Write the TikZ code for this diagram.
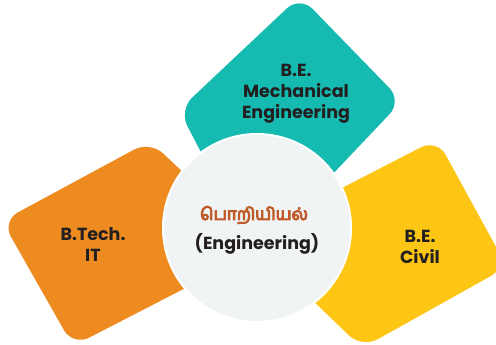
\documentclass[tikz,border=0pt]{standalone}
\usepackage{fontspec}
\setmainfont{Poppins}
\newfontfamily\tamilfont[Script=Tamil]{Hind Madurai}
\definecolor{tealc}{RGB}{21,186,176}
\definecolor{orangec}{RGB}{238,139,32}
\definecolor{yellowc}{RGB}{254,198,20}
\definecolor{hubfill}{RGB}{241,244,245}
\definecolor{darktext}{RGB}{35,31,32}
\definecolor{tamilc}{RGB}{192,90,40}
\newcommand{\heavytext}[1]{\special{pdf:literal direct 2 Tr 1 w}#1\special{pdf:literal direct 0 Tr}}
\tikzset{
  petal/.style={rounded corners=18pt},
  label text/.style={align=center, text=darktext, inner sep=0pt,
    font=\bfseries\fontsize{17.5}{21}\selectfont},
}
\begin{document}
\begin{tikzpicture}[x=1pt,y=-1pt]
\useasboundingbox (0,0) rectangle (496,345);
\begin{scope}
\clip (0,0) rectangle (496,345);
\fill[tealc, petal] (300,-4) -- (402,101) -- (255,256) -- (179,110) -- cycle;
\fill[orangec, petal] (150,141) -- (263,248) -- (73,346) -- (2,221) -- cycle;
\fill[yellowc, petal] (437,139) -- (507,267) -- (362,348) -- (247,237) -- cycle;
\end{scope}
\node[circle, fill=hubfill, draw=white, line width=2pt, minimum size=188pt, inner sep=0pt] (hub) at (257,228) {};
\node[label text] (mech) at (296,94) {B.E.\\Mechanical\\Engineering};
\node[label text] (it) at (93,244.5) {B.Tech.\\IT};
\node[label text] (civil) at (420,247) {B.E.\\Civil};
\node[text=tamilc, inner sep=0pt, font=\tamilfont\fontsize{17}{21}\selectfont] (tamil) at (254,215) {\heavytext{பொறியியல்}};
\node[label text] (eng) at (257,243.5) {(Engineering)};
\end{tikzpicture}
\end{document}
